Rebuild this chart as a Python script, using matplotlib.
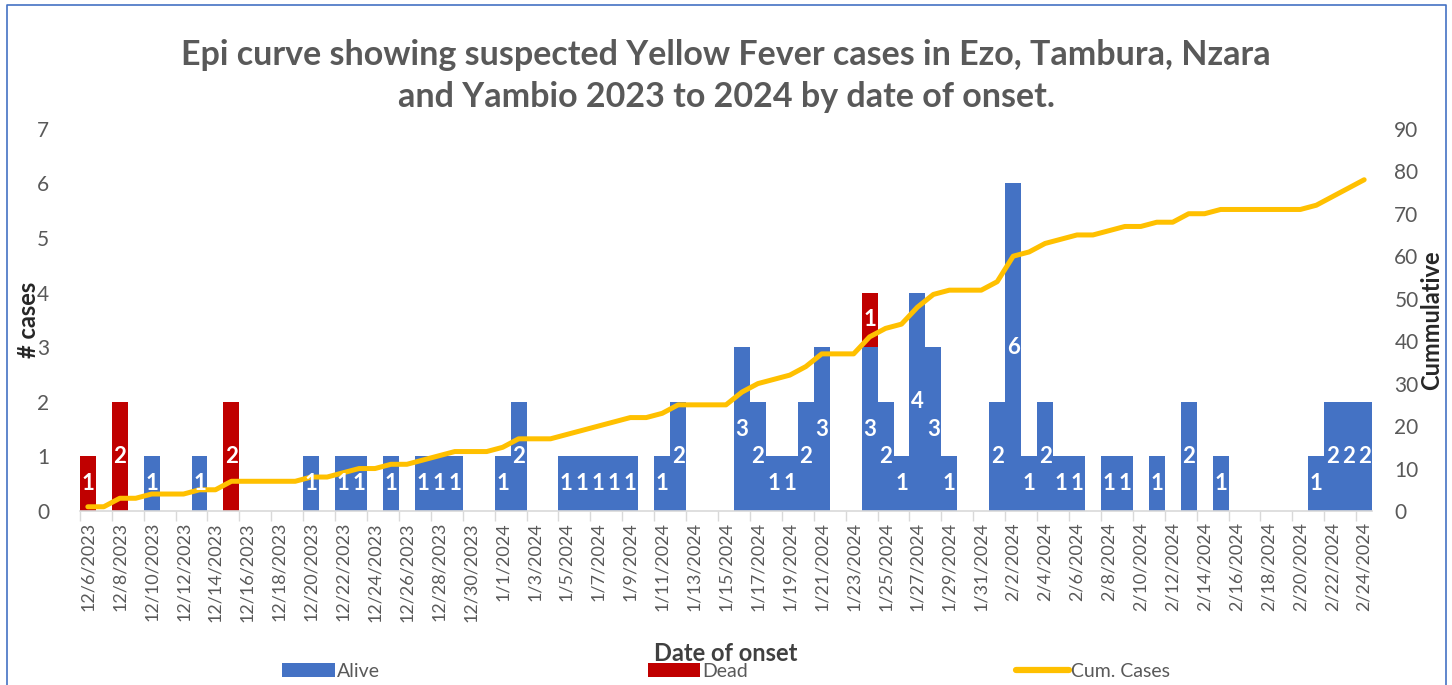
import numpy as np
import pandas as pd
import matplotlib
matplotlib.use("Agg")
import matplotlib.pyplot as plt
from matplotlib.patches import Patch
from matplotlib.lines import Line2D

plt.rcParams['font.family'] = ['Lato', 'DejaVu Sans']

# ---- data ----
onset_dates = pd.date_range("2023-12-06", "2024-02-24", freq="D")

alive = [0, 0, 0, 0, 1, 0, 0, 1, 0, 0,
         0, 0, 0, 0, 1, 0, 1, 1, 0, 1,
         0, 1, 1, 1, 0, 0, 1, 2, 0, 0,
         1, 1, 1, 1, 1, 0, 1, 2, 0, 0,
         0, 3, 2, 1, 1, 2, 3, 0, 0, 3,
         2, 1, 4, 3, 1, 0, 0, 2, 6, 1,
         2, 1, 1, 0, 1, 1, 0, 1, 0, 2,
         0, 1, 0, 0, 0, 0, 0, 1, 2, 2,
         2]

dead = [1, 0, 2, 0, 0, 0, 0, 0, 0, 2,
        0, 0, 0, 0, 0, 0, 0, 0, 0, 0,
        0, 0, 0, 0, 0, 0, 0, 0, 0, 0,
        0, 0, 0, 0, 0, 0, 0, 0, 0, 0,
        0, 0, 0, 0, 0, 0, 0, 0, 0, 1,
        0, 0, 0, 0, 0, 0, 0, 0, 0, 0,
        0, 0, 0, 0, 0, 0, 0, 0, 0, 0,
        0, 0, 0, 0, 0, 0, 0, 0, 0, 0,
        0]

cum_cases = [1, 1, 3, 3, 4, 4, 4, 5, 5, 7,
             7, 7, 7, 7, 8, 8, 9, 10, 10, 11,
             11, 12, 13, 14, 14, 14, 15, 17, 17, 17,
             18, 19, 20, 21, 22, 22, 23, 25, 25, 25,
             25, 28, 30, 31, 32, 34, 37, 37, 37, 41,
             43, 44, 48, 51, 52, 52, 52, 54, 60, 61,
             63, 64, 65, 65, 66, 67, 67, 68, 68, 70,
             70, 71, 71, 71, 71, 71, 71, 72, 74, 76,
             78]

tick_labels = [f"{d.month}/{d.day}/{d.year}" for d in onset_dates]

BLUE = "#4472C4"
RED = "#C00000"
GOLD = "#FFC000"
GREY = "#595959"

fig = plt.figure(figsize=(14.52, 6.85), dpi=100)
ax = fig.add_axes([0.055, 0.254, 0.890, 0.558])
ax2 = ax.twinx()

x = np.arange(len(onset_dates))
alive_a = np.array(alive)
dead_a = np.array(dead)

ax.bar(x, alive_a, width=1.0, color=BLUE, linewidth=0, zorder=2)
ax.bar(x, dead_a, width=1.0, bottom=alive_a, color=RED, linewidth=0, zorder=2)

ax2.plot(x, cum_cases, color=GOLD, linewidth=3.6, solid_capstyle="round",
         solid_joinstyle="round", zorder=3)

# data labels, centered in each segment
lab_kw = dict(ha="center", va="center", color="white", fontsize=16,
              fontweight="bold", zorder=5)
for i in x:
    if alive_a[i] > 0:
        ax2.text(i, alive_a[i] / 2 * 90 / 7, str(alive_a[i]), **lab_kw)
    if dead_a[i] > 0:
        ax2.text(i, (alive_a[i] + dead_a[i] / 2) * 90 / 7, str(dead_a[i]), **lab_kw)

ax.set_xlim(-0.5, len(x) - 0.5)
ax.set_ylim(0, 7)
ax2.set_ylim(0, 90)
ax.set_yticks(range(0, 8))
ax2.set_yticks(range(0, 91, 10))

ax.set_xticks(x[::2])
ax.set_xticklabels(tick_labels[::2], rotation=90, fontsize=13, color=GREY)
ax.set_xticks(x[::2] - 0.5, minor=True)
ax.tick_params(axis="x", which="major", length=0, pad=8)
ax.tick_params(axis="x", which="minor", length=7, color="#D9D9D9", width=1)
ax.tick_params(axis="y", length=0, labelsize=15, labelcolor=GREY, pad=22)
ax2.tick_params(axis="y", length=0, labelsize=15, labelcolor=GREY, pad=16)

for a in (ax, ax2):
    for s in ("top", "left", "right"):
        a.spines[s].set_visible(False)
ax2.spines["bottom"].set_visible(False)
ax.spines["bottom"].set_color("#D9D9D9")
ax.spines["bottom"].set_linewidth(1.2)

ax.set_ylabel("# cases", fontsize=17, fontweight="bold", color="#262626")
ax.yaxis.set_label_coords(-0.031, 0.5)
ax2.set_ylabel("Cummulative", fontsize=17, fontweight="bold", color="#262626",
               rotation=90)
ax2.yaxis.set_label_coords(1.037, 0.5)

fig.text(0.5, 0.889,
         "Epi curve showing suspected Yellow Fever cases in Ezo, Tambura, Nzara\n"
         "and Yambio 2023 to 2024 by date of onset.",
         ha="center", va="center", fontsize=24.5, fontweight="bold", color=GREY,
         linespacing=1.4)

fig.text(0.5, 0.046, "Date of onset", ha="center", va="center", fontsize=17,
         fontweight="bold", color="#404040")

handles = [Patch(facecolor=BLUE, edgecolor="none"),
           Patch(facecolor=RED, edgecolor="none"),
           Line2D([0], [0], color=GOLD, linewidth=4.5, solid_capstyle="round")]
fig.legend(handles, ["Alive", "Dead", "Cum. Cases"], loc="center",
           bbox_to_anchor=(0.5, 0.020), ncol=3, frameon=False, fontsize=14,
           handlelength=2.7, handleheight=0.75, handletextpad=0.1,
           columnspacing=13.8, labelcolor=GREY)

# chart border
fig.add_artist(Line2D([0.005, 0.005, 0.996, 0.996], [0.0, 0.993, 0.993, 0.0],
                      transform=fig.transFigure, color=BLUE, linewidth=1.2))

fig.savefig("out.png", dpi=100)
